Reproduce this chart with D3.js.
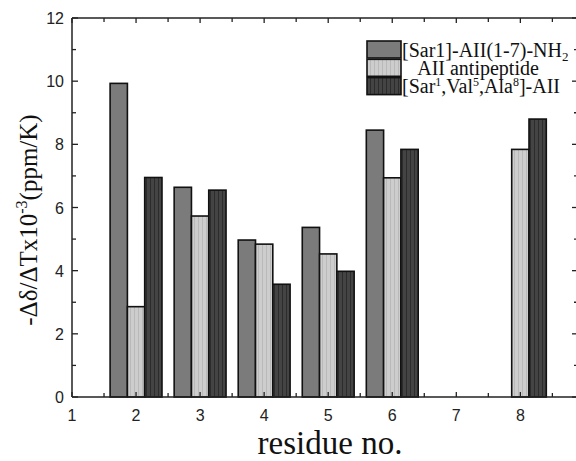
<!DOCTYPE html>
<html>
<head>
<meta charset="utf-8">
<script src="https://cdn.jsdelivr.net/npm/d3@7"></script>
<style>
  body { margin: 0; background: #fff; }
  svg { display: block; }
</style>
</head>
<body>
<svg id="chart" width="576" height="461"></svg>
<script>
// residue numbers and series values
const residues = [2, 3, 4, 5, 6, 8];
const sar1 = [9.93, 6.64, 4.97, 5.37, 8.45, null];       // [Sar1]-AII(1-7)-NH2
const anti = [2.86, 5.73, 4.84, 4.53, 6.94, 7.84];       // AII antipeptide
const sarval = [6.95, 6.55, 3.57, 3.98, 7.84, 8.8];      // [Sar1,Val5,Ala8]-AII
const xTicks = [1, 2, 3, 4, 5, 6, 7, 8];
const yTicks = [0, 2, 4, 6, 8, 10, 12];

const series = [
  {name: "sar1", values: sar1, fill: "#7b7b7b"},
  {name: "anti", values: anti, fill: "url(#stripeLight)"},
  {name: "sarval", values: sarval, fill: "url(#stripeDark)"}
];

const svg = d3.select("#chart");
const pL = 72, pT = 18, pR = 578, pB = 397;

const x = d3.scaleLinear().domain([1, 8.9]).range([pL, pR]);
const y = d3.scaleLinear().domain([0, 12]).range([pB, pT]);

// stripe patterns
const defs = svg.append("defs");
function stripes(id, base, line) {
  const p = defs.append("pattern").attr("id", id)
    .attr("patternUnits", "userSpaceOnUse").attr("width", 4).attr("height", 10);
  p.append("rect").attr("width", 4).attr("height", 10).attr("fill", base);
  p.append("rect").attr("x", 2).attr("width", 1).attr("height", 10).attr("fill", line);
}
stripes("stripeLight", "#cdcdcd", "#b9b9b9");
stripes("stripeDark", "#444444", "#2c2c2c");

const barW = 0.27;
const bars = svg.append("g");
series.forEach((s, si) => {
  bars.selectAll(null)
    .data(residues.map((r, i) => ({r, v: s.values[i]})).filter(d => d.v != null))
    .join("rect")
      .attr("x", d => x(d.r + (si - 1.5) * barW))
      .attr("width", x(1 + barW) - x(1))
      .attr("y", d => y(d.v))
      .attr("height", d => y(0) - y(d.v))
      .attr("fill", s.fill)
      .attr("stroke", "#111")
      .attr("stroke-width", 1.6);
});

// frame
const frame = svg.append("g").attr("stroke", "#222").attr("stroke-width", 1.5).attr("fill", "none");
frame.append("line").attr("x1", pL).attr("x2", pR).attr("y1", pB).attr("y2", pB);
frame.append("line").attr("x1", pL).attr("x2", pR).attr("y1", pT).attr("y2", pT);
frame.append("line").attr("x1", pL).attr("x2", pL).attr("y1", pT).attr("y2", pB);
frame.append("line").attr("x1", pR).attr("x2", pR).attr("y1", pT).attr("y2", pB);

// inward ticks
const halfTicks = d3.range(1, 9, 0.5);
const tk = svg.append("g").attr("stroke", "#222").attr("stroke-width", 1.3);
halfTicks.forEach(t => {
  const len = Number.isInteger(t) ? 5 : 4;
  tk.append("line").attr("x1", x(t)).attr("x2", x(t)).attr("y1", pB).attr("y2", pB - len);
  tk.append("line").attr("x1", x(t)).attr("x2", x(t)).attr("y1", pT).attr("y2", pT + len);
});
d3.range(0, 13, 1).forEach(t => {
  const len = t % 2 === 0 ? 6 : 4;
  tk.append("line").attr("x1", pL).attr("x2", pL + len).attr("y1", y(t)).attr("y2", y(t));
  tk.append("line").attr("x1", pR).attr("x2", pR - len).attr("y1", y(t)).attr("y2", y(t));
});

// tick labels
svg.append("g").selectAll("text").data(xTicks).join("text")
  .attr("x", d => x(d)).attr("y", 421)
  .attr("text-anchor", "middle")
  .attr("font-family", "Liberation Sans, Arial, sans-serif").attr("font-size", 16)
  .attr("fill", "#222").text(d => d);
svg.append("g").selectAll("text").data(yTicks).join("text")
  .attr("x", 64).attr("y", d => y(d) + 6)
  .attr("text-anchor", "end")
  .attr("font-family", "Liberation Sans, Arial, sans-serif").attr("font-size", 16)
  .attr("fill", "#222").text(d => d);

// axis titles
svg.append("text")
  .attr("x", 330).attr("y", 454)
  .attr("text-anchor", "middle")
  .attr("font-family", "Liberation Serif, Times New Roman, serif").attr("font-size", 33)
  .attr("fill", "#111").text("residue no.");

const yl = svg.append("text")
  .attr("transform", "translate(37,220) rotate(-90)")
  .attr("text-anchor", "middle")
  .attr("font-family", "Liberation Serif, Times New Roman, serif").attr("font-size", 25)
  .attr("fill", "#111");
yl.append("tspan").text("-Δδ/ΔTx10");
yl.append("tspan").attr("dy", -10).attr("font-size", 16).text("-3");
yl.append("tspan").attr("dy", 10).text("(ppm/K)");

// legend
const lg = svg.append("g");
const legendFills = series.map(s => s.fill);
legendFills.forEach((f, i) => {
  lg.append("rect").attr("x", 367).attr("y", 41 + i * 18.3).attr("width", 34).attr("height", 17)
    .attr("fill", f).attr("stroke", "#111").attr("stroke-width", 1.6);
});
const lf = "Liberation Serif, Times New Roman, serif";
const t1 = lg.append("text").attr("x", 402).attr("y", 57).attr("font-family", lf).attr("font-size", 20).attr("fill", "#111");
t1.append("tspan").text("[Sar1]-AII(1-7)-NH");
t1.append("tspan").attr("dy", 4).attr("font-size", 13).text("2");
lg.append("text").attr("x", 478).attr("y", 75).attr("text-anchor", "middle")
  .attr("font-family", lf).attr("font-size", 20).attr("fill", "#111").text("AII antipeptide");
const t3 = lg.append("text").attr("x", 402).attr("y", 93).attr("font-family", lf).attr("font-size", 20).attr("fill", "#111");
t3.append("tspan").text("[Sar");
t3.append("tspan").attr("dy", -7).attr("font-size", 12).text("1");
t3.append("tspan").attr("dy", 7).text(",Val");
t3.append("tspan").attr("dy", -7).attr("font-size", 12).text("5");
t3.append("tspan").attr("dy", 7).text(",Ala");
t3.append("tspan").attr("dy", -7).attr("font-size", 12).text("8");
t3.append("tspan").attr("dy", 7).text("]-AII");
</script>
</body>
</html>
